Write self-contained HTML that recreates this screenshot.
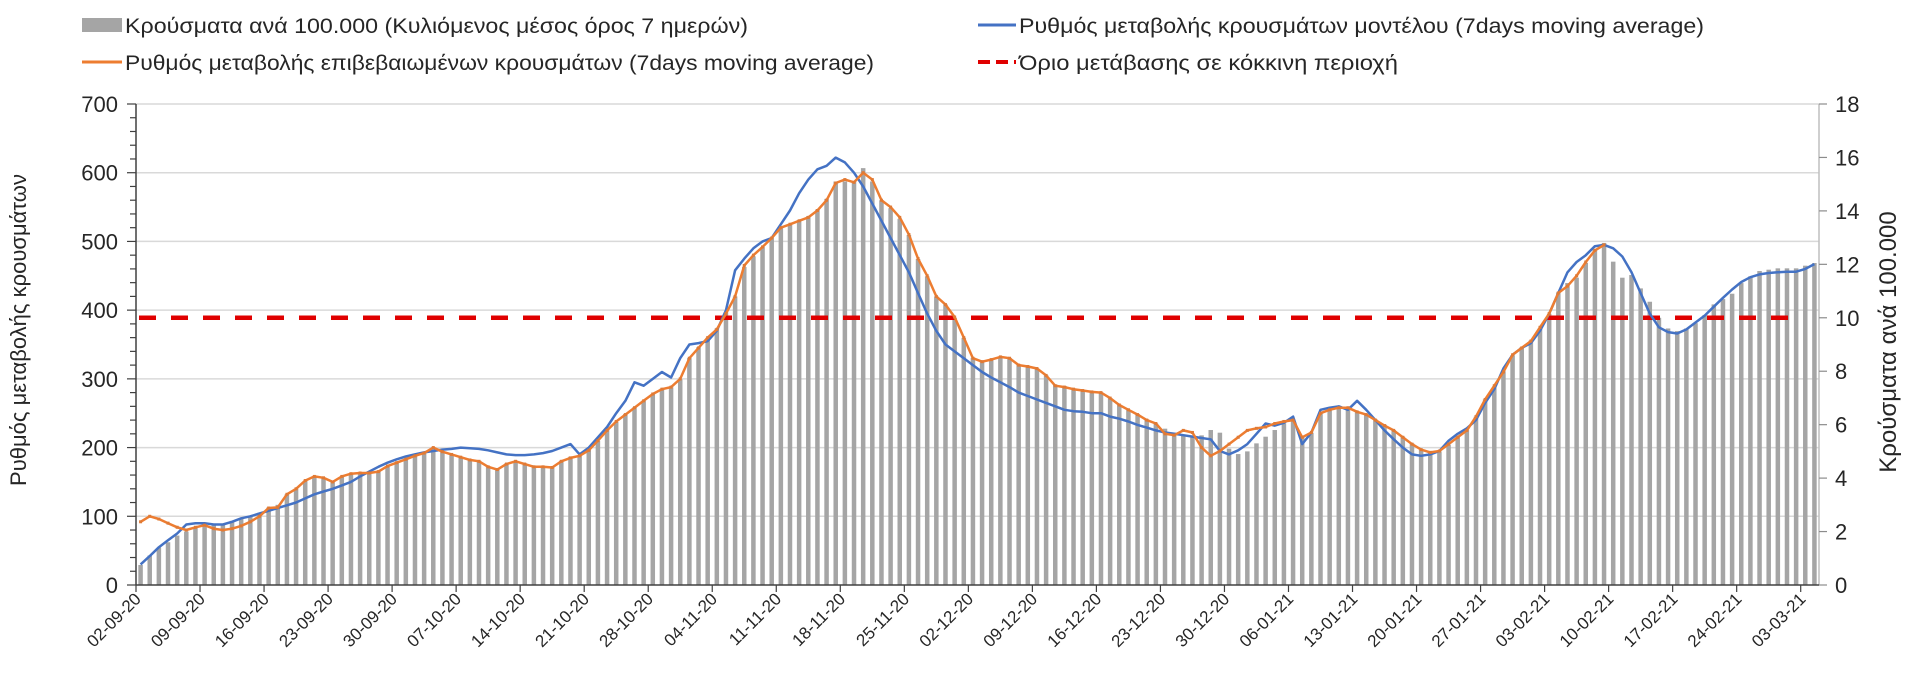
<!DOCTYPE html>
<html><head><meta charset="utf-8">
<style>
html,body{margin:0;padding:0;background:#fff;}
svg{display:block;font-family:"Liberation Sans","DejaVu Sans",sans-serif;}
</style></head>
<body>
<svg id="chart" width="1920" height="694" viewBox="0 0 1920 694" xmlns="http://www.w3.org/2000/svg">
  <rect x="0" y="0" width="1920" height="694" fill="#fff"/>
  <g id="grid"></g>
  <g id="bars"></g>
  <g id="lines"></g>
  <g id="axes"></g>
  <g id="legend">
    <g>
      <rect x="82" y="18" width="40" height="14" fill="#a5a5a5"/>
      <text x="125" y="33" font-size="21" fill="#262626" textLength="623" lengthAdjust="spacingAndGlyphs">Κρούσματα ανά 100.000 (Κυλιόμενος μέσος όρος 7 ημερών)</text>
    </g>
    <g>
      <line x1="978" y1="25" x2="1016" y2="25" stroke="#4472c4" stroke-width="3"/>
      <text x="1019" y="33" font-size="21" fill="#262626" textLength="685" lengthAdjust="spacingAndGlyphs">Ρυθμός μεταβολής κρουσμάτων μοντέλου (7days moving average)</text>
    </g>
    <g>
      <line x1="82" y1="62" x2="122" y2="62" stroke="#ed7d31" stroke-width="3"/>
      <text x="125" y="70" font-size="21" fill="#262626" textLength="749" lengthAdjust="spacingAndGlyphs">Ρυθμός μεταβολής επιβεβαιωμένων κρουσμάτων (7days moving average)</text>
    </g>
    <g>
      <line x1="978" y1="62" x2="1016" y2="62" stroke="#e00000" stroke-width="4" stroke-dasharray="12,6"/>
      <text x="1019" y="70" font-size="21" fill="#262626" textLength="379" lengthAdjust="spacingAndGlyphs">Όριο μετάβασης σε κόκκινη περιοχή</text>
    </g>
  </g>
  <text x="0" y="0" font-size="22" fill="#262626" text-anchor="middle" transform="translate(26,330) rotate(-90)">Ρυθμός μεταβολής κρουσμάτων</text>
  <text x="0" y="0" font-size="24" fill="#262626" text-anchor="middle" transform="translate(1896,342) rotate(-90)">Κρούσματα ανά 100.000</text>
</svg>
<script>
const dateLabels = ["02-09-20","09-09-20","16-09-20","23-09-20","30-09-20","07-10-20","14-10-20","21-10-20","28-10-20","04-11-20","11-11-20","18-11-20","25-11-20","02-12-20","09-12-20","16-12-20","23-12-20","30-12-20","06-01-21","13-01-21","20-01-21","27-01-21","03-02-21","10-02-21","17-02-21","24-02-21","03-03-21"];
const leftTicks = [0,100,200,300,400,500,600,700];
const rightTicks = [0,2,4,6,8,10,12,14,16,18];
const thresholdValue = [10];
const casesPer100k = [
0.75,1.1,1.4,1.6,1.85,2.0,2.15,
2.25,2.3,2.3,2.4,2.5,2.6,2.7,
2.9,3.0,3.4,3.6,3.9,4.05,4.0,
3.9,4.05,4.15,4.2,4.2,4.25,4.45,
4.6,4.7,4.85,4.95,5.15,5.0,4.9,
4.8,4.7,4.65,4.45,4.35,4.55,4.65,
4.55,4.45,4.45,4.4,4.65,4.8,4.85,
5.05,5.4,5.8,6.1,6.4,6.65,6.9,
7.15,7.35,7.4,7.7,8.5,8.9,9.25,
9.6,10.2,10.8,11.9,12.3,12.65,13.0,
13.35,13.5,13.65,13.8,14.05,14.45,15.1,
15.1,15.1,15.6,15.1,14.4,14.1,13.7,
13.1,12.2,11.55,10.8,10.5,10.0,9.25,
8.5,8.4,8.45,8.55,8.5,8.25,8.2,
8.1,7.85,7.5,7.45,7.35,7.3,7.25,
7.2,7.0,6.75,6.55,6.4,6.2,6.05,
5.85,5.7,5.6,5.55,5.6,5.8,5.7,
5.1,4.9,5.0,5.3,5.55,5.8,6.05,
6.15,5.55,5.7,6.45,6.55,6.65,6.65,
6.5,6.4,6.2,6.0,5.8,5.55,5.3,
5.05,4.95,5.0,5.25,5.55,5.8,6.3,
6.95,7.4,8.0,8.6,8.9,9.15,9.6,
10.15,10.95,11.3,11.5,12.05,12.55,12.8,
12.1,11.5,11.6,11.1,10.6,10.0,9.6,
9.5,9.6,9.8,10.1,10.5,10.7,10.9,
11.3,11.55,11.75,11.8,11.85,11.85,11.85,
11.95,12.05];
const modelRate = [
30,42,55,65,75,88,90,
90,88,88,92,97,100,104,
108,112,116,120,126,132,136,
140,145,150,158,165,172,178,
183,187,190,193,195,197,198,
200,199,198,196,193,190,189,
189,190,192,195,200,205,190,
200,215,230,250,268,295,290,
300,310,302,330,350,352,355,
370,400,458,475,490,500,505,
525,545,570,590,605,610,622,
615,600,580,555,530,505,480,
455,425,395,370,350,340,330,
320,310,302,295,288,280,275,
270,265,260,255,253,252,250,
250,245,242,238,233,229,225,
222,220,218,216,214,212,195,
190,196,205,220,235,232,236,
245,205,222,255,258,260,255,
268,255,240,225,212,200,190,
188,190,195,210,220,228,240,
265,285,315,335,345,352,370,
395,425,455,470,480,493,495,
490,478,455,425,395,375,368,
366,372,382,392,405,418,430,
441,448,452,454,455,456,456,
460,467];
const confirmedRate = [
92,100,96,90,84,80,84,
87,82,80,82,86,92,100,
112,113,132,140,152,158,156,
150,158,162,163,163,165,173,
178,183,188,192,200,194,190,
186,182,180,172,168,176,180,
176,172,172,171,180,185,188,
196,210,225,238,248,258,268,
278,285,288,300,330,345,360,
372,395,420,465,480,492,505,
520,525,530,535,545,560,585,
590,586,600,590,560,550,535,
510,475,450,420,408,390,360,
330,325,328,332,330,320,318,
315,305,290,288,285,283,281,
280,272,262,255,248,240,235,
220,218,225,222,200,188,195,
205,215,225,228,230,235,238,
240,215,222,250,255,258,258,
252,248,240,232,225,215,205,
197,193,195,205,215,225,245,
270,290,310,335,345,355,375,
395,425,435,450,470,487,495];

const NS = "http://www.w3.org/2000/svg";
const X0 = 136, X1 = 1819, Y0 = 585, Y1 = 104;
const N = casesPer100k.length;
const catW = (X1 - X0) / N;
const xCenter = i => X0 + (i + 0.5) * catW;
const xEdge = i => X0 + i * catW;
const yLeft = v => Y0 - (v / 700) * (Y0 - Y1);
const yRight = v => Y0 - (v / 18) * (Y0 - Y1);
function mk(tag, attrs, parent) {
  const el = document.createElementNS(NS, tag);
  for (const k in attrs) el.setAttribute(k, attrs[k]);
  parent.appendChild(el);
  return el;
}
const grid = document.getElementById("grid");
const bars = document.getElementById("bars");
const lines = document.getElementById("lines");
const axes = document.getElementById("axes");

leftTicks.forEach(t => {
  if (t === 0) return;
  const g = mk("line", {x1: X0, x2: X1, y1: yLeft(t), y2: yLeft(t), stroke: "#d9d9d9", "stroke-width": 1.5}, grid);
  
  
});

casesPer100k.forEach((v, i) => {
  const r = mk("rect", {x: xCenter(i) - 2.25, y: yRight(v), width: 4.5, height: Y0 - yRight(v), fill: "#a5a5a5"}, bars);
  
  
});

const thr = mk("line", {x1: X0 + 3, x2: xEdge(182), y1: yRight(thresholdValue[0]), y2: yRight(thresholdValue[0]), stroke: "#e00000", "stroke-width": 4.5, "stroke-dasharray": "17,15"}, lines);



const bp = modelRate.map((v, i) => xCenter(i).toFixed(1) + "," + yLeft(v).toFixed(1)).join(" ");
const bl = mk("polyline", {points: bp, fill: "none", stroke: "#4472c4", "stroke-width": 2.5, "stroke-linejoin": "round"}, lines);



const op = confirmedRate.map((v, i) => xCenter(i).toFixed(1) + "," + yLeft(v).toFixed(1)).join(" ");
const ol = mk("polyline", {points: op, fill: "none", stroke: "#ed7d31", "stroke-width": 2.5, "stroke-linejoin": "round"}, lines);


confirmedRate.forEach((v, i) => {
  const m = mk("rect", {x: xCenter(i) - 1.5, y: yLeft(v) - 1.5, width: 3, height: 3, fill: "#e07a35"}, lines);
  
  
});

const la = mk("line", {x1: X0, x2: X0, y1: Y1, y2: Y0, stroke: "#404040", "stroke-width": 1.5}, axes);


for (let v = 0; v <= 700; v += 20) {
  const major = v % 100 === 0;
  const tk = mk("line", {x1: X0 - (major ? 9 : 6), x2: X0, y1: yLeft(v), y2: yLeft(v), stroke: "#404040", "stroke-width": 1.2}, axes);
  
  
}
leftTicks.forEach(t => {
  const tx = mk("text", {x: X0 - 18, y: yLeft(t) + 8, "font-size": 22, fill: "#262626", "text-anchor": "end"}, axes);
  tx.textContent = t;
  
  
});
const ra = mk("line", {x1: X1, x2: X1, y1: Y1, y2: Y0, stroke: "#bfbfbf", "stroke-width": 1.5}, axes);


rightTicks.forEach(t => {
  const tk = mk("line", {x1: X1, x2: X1 + 8, y1: yRight(t), y2: yRight(t), stroke: "#8c8c8c", "stroke-width": 1.2}, axes);
  
  
  const tx = mk("text", {x: X1 + 16, y: yRight(t) + 8, "font-size": 22, fill: "#262626"}, axes);
  tx.textContent = t;
  
  
});
const xa = mk("line", {x1: X0, x2: X1, y1: Y0, y2: Y0, stroke: "#404040", "stroke-width": 1.5}, axes);


dateLabels.forEach((d, k) => {
  const x = xEdge(7 * k);
  const tk = mk("line", {x1: x, x2: x, y1: Y0, y2: Y0 + 7, stroke: "#404040", "stroke-width": 1.2}, axes);
  
  
  const tx = mk("text", {x: 0, y: 0, "font-size": 17, fill: "#262626", "text-anchor": "end", transform: "translate(" + (x + 6) + "," + (Y0 + 15) + ") rotate(-45)"}, axes);
  tx.textContent = d;
  
  
});
</script>
</body></html>
